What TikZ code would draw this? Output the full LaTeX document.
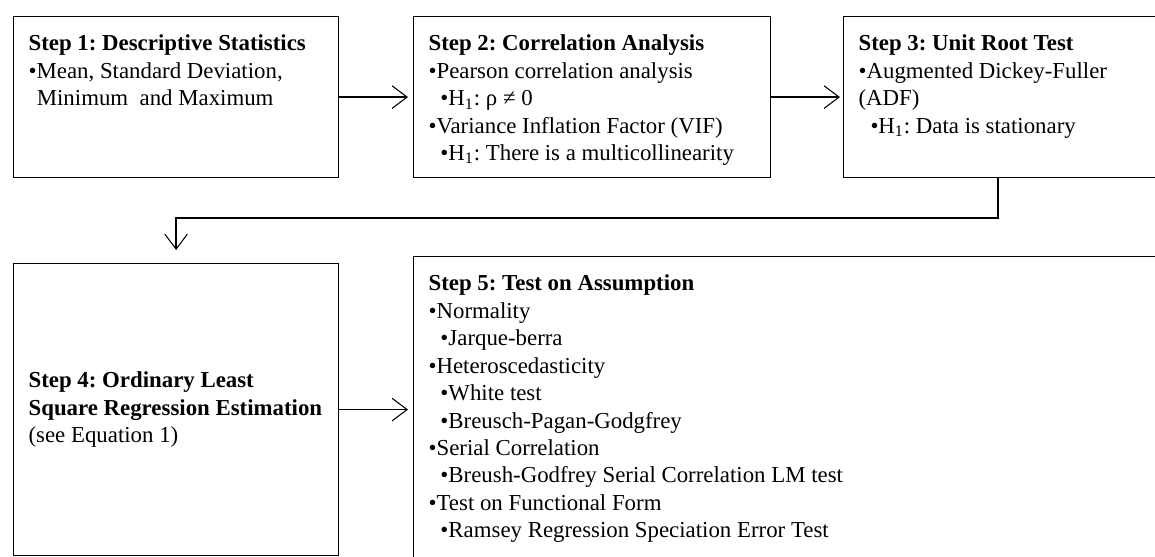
\documentclass[tikz,border=0pt]{standalone}
\usepackage{fontspec}
\setmainfont{Liberation Serif}
\usetikzlibrary{arrows.meta}
\frenchspacing

% bullets with hanging indent
\newcommand{\bul}{\par\hangindent=0.36em\hangafter=1\noindent\textbullet}
\newcommand{\subbul}{\par\hangindent=0.88em\hangafter=1\noindent\hspace*{0.52em}\textbullet}
\newcommand{\topbox}[3]{\parbox[c][#1][t]{#2}{\raggedright\setlength{\parskip}{0pt}\vspace*{0.37cm}#3}}

\begin{document}
\begin{tikzpicture}[x=0.02cm, y=-0.02cm,
    stepbox/.style={draw, line width=0.7pt, anchor=north west, inner xsep=0.3cm, inner ysep=0pt,
                    font=\fontsize{13pt}{15.6pt}\selectfont},
    flow/.style={line width=0.8pt, -{Straight Barb[length=0.3cm, width=0.45cm, line width=0.6pt]}, shorten >=0.1cm}]
    \useasboundingbox (0,0) rectangle (1155,556);
    \clip (0,0) rectangle (1155,556);
    % Top row
    \node[stepbox] (box1) at (13,16) {\topbox{3.22cm}{5.9cm}{%
        \textbf{Step 1: Descriptive Statistics}
        \bul Mean, Standard Deviation,\newline Minimum\ \ and Maximum}};
    \node[stepbox] (box2) at (413,16) {\topbox{3.22cm}{6.54cm}{%
        \textbf{Step 2: Correlation Analysis}
        \bul Pearson correlation analysis
        \subbul H\textsubscript{1}: ρ ≠ 0
        \bul Variance Inflation Factor (VIF)
        \subbul H\textsubscript{1}: There is a multicollinearity}};
    \node[stepbox] (box3) at (843,16) {\topbox{3.22cm}{6.6cm}{%
        \textbf{Step 3: Unit Root Test}
        \bul Augmented Dickey-Fuller
        \par\noindent(ADF)
        \subbul H\textsubscript{1}: Data is stationary}};
    % Bottom row
    \node[stepbox] (box4) at (13,263) {\parbox[c][5.84cm][c]{5.9cm}{\raggedright
        \textbf{Step 4: Ordinary Least}\\\textbf{Square Regression Estimation}\\(see Equation 1)}};
    \node[stepbox] (box5) at (413,256) {\topbox{6.6cm}{14.9cm}{%
        \textbf{Step 5: Test on Assumption}
        \bul Normality
        \subbul Jarque-berra
        \bul Heteroscedasticity
        \subbul White test
        \subbul Breusch-Pagan-Godgfrey
        \bul Serial Correlation
        \subbul Breush-Godfrey Serial Correlation LM test
        \bul Test on Functional Form
        \subbul Ramsey Regression Speciation Error Test}};
    % Connectors
    \coordinate (drop) at (998,218);
    \draw[flow] (box1) -- (box2);
    \draw[flow, shorten >=0.06cm] (box2) -- (box3);
    \draw[flow, shorten >=0.26cm] (box3.south -| drop) -- (drop) -| (box4.north);
    \draw[flow] (box4.east) -- (box4.east -| box5.west);
\end{tikzpicture}
\end{document}
